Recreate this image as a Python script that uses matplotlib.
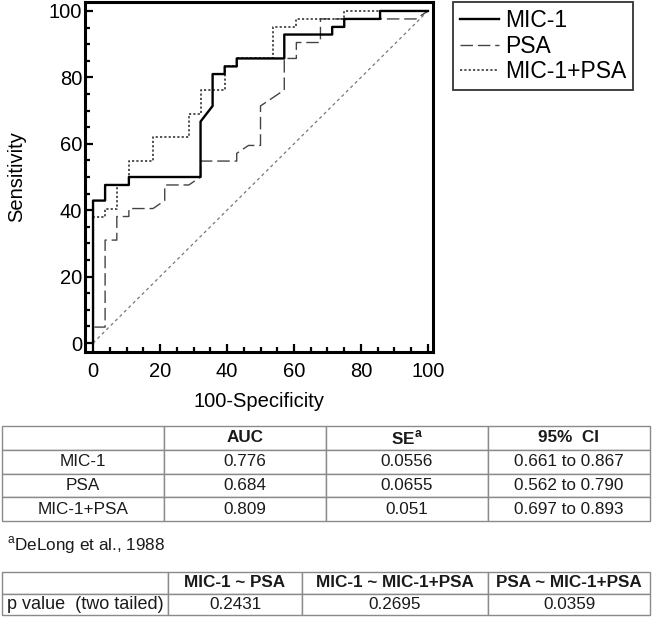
import matplotlib
matplotlib.use("Agg")
import matplotlib.pyplot as plt
from matplotlib.ticker import MultipleLocator

plt.rcParams['font.family'] = ['Liberation Sans', 'DejaVu Sans']
plt.rcParams['mathtext.fontset'] = 'custom'
plt.rcParams['mathtext.rm'] = 'Liberation Sans'
plt.rcParams['mathtext.bf'] = 'Liberation Sans:bold'

# ROC curves (100-Specificity, Sensitivity)
mic1_x = [0, 0, 3.6, 3.6, 10.7, 10.7, 32.1, 32.1, 35.7, 35.7, 39.3, 39.3, 42.9, 42.9,
          57.1, 57.1, 71.4, 71.4, 75.0, 75.0, 85.7, 85.7, 100]
mic1_y = [0, 42.9, 42.9, 47.6, 47.6, 50.0, 50.0, 66.7, 71.4, 81.0, 81.0, 83.3, 83.3, 85.7,
          85.7, 92.9, 92.9, 95.2, 95.2, 97.6, 97.6, 100, 100]

psa_x = [0, 0, 3.6, 3.6, 7.1, 7.1, 10.7, 10.7, 17.9, 21.4, 21.4, 28.6, 32.1, 32.1,
         42.9, 42.9, 46.4, 50.0, 50.0, 57.1, 57.1, 60.7, 60.7, 67.9, 67.9, 96.4, 100]
psa_y = [0, 4.8, 4.8, 31.0, 31.0, 38.1, 38.1, 40.5, 40.5, 42.9, 47.6, 47.6, 50.0, 54.8,
         54.8, 57.1, 59.5, 59.5, 71.4, 76.2, 85.7, 85.7, 90.5, 90.5, 97.6, 97.6, 100]

comb_x = [0, 0, 3.6, 3.6, 7.1, 7.1, 10.7, 10.7, 17.9, 17.9, 28.6, 28.6, 32.1, 32.1,
          39.3, 39.3, 42.9, 42.9, 53.6, 53.6, 60.7, 60.7, 75.0, 75.0, 100]
comb_y = [0, 38.1, 38.1, 40.5, 40.5, 47.6, 47.6, 54.8, 54.8, 61.9, 61.9, 69.0, 69.0, 76.2,
          76.2, 83.3, 83.3, 85.7, 85.7, 95.2, 95.2, 97.6, 97.6, 100, 100]

labels = ['MIC-1', 'PSA', 'MIC-1+PSA']

# table 1
t1_cols = ['', 'AUC', r'SE$^{\mathbf{a}}$', '95%  CI']
t1_rows = ['MIC-1', 'PSA', 'MIC-1+PSA']
auc = ['0.776', '0.684', '0.809']
se = ['0.0556', '0.0655', '0.051']
ci = ['0.661 to 0.867', '0.562 to 0.790', '0.697 to 0.893']
footnote = r'$^{\mathrm{a}}$DeLong et al., 1988'

# table 2
t2_cols = ['', 'MIC-1 ~ PSA', 'MIC-1 ~ MIC-1+PSA', 'PSA ~ MIC-1+PSA']
t2_row = ['p value  (two tailed)', '0.2431', '0.2695', '0.0359']

W, H = 652, 617
fig = plt.figure(figsize=(6.52, 6.17), dpi=100)

ax = fig.add_axes([85 / W, 1 - 352 / H, 348 / W, 350 / H])
ax.plot([0, 100], [0, 100], color='#777777', lw=0.9, dashes=(2.5, 2.5))
ax.plot(psa_x, psa_y, color='#444444', lw=1.0, dashes=(9, 3.5), label=labels[1])
ax.plot(comb_x, comb_y, color='#333333', lw=1.2, dashes=(1.3, 1.3), label=labels[2])
ax.plot(mic1_x, mic1_y, color='black', lw=1.7, label=labels[0])

ax.set_xlim(-2.4, 101.5)
ax.set_ylim(-2.7, 102.7)
ax.xaxis.set_major_locator(MultipleLocator(20))
ax.xaxis.set_minor_locator(MultipleLocator(5))
ax.yaxis.set_major_locator(MultipleLocator(20))
ax.yaxis.set_minor_locator(MultipleLocator(5))
ax.tick_params(which='both', direction='in', width=1.6, labelsize=14.5)
ax.tick_params(which='major', length=6)
ax.tick_params(which='minor', length=3.5)
ax.tick_params(axis='x', pad=7)
ax.tick_params(axis='y', pad=2)
for s in ax.spines.values():
    s.set_linewidth(2.2)

ax.set_xlabel('100-Specificity', fontsize=14.5)
ax.set_ylabel('Sensitivity', fontsize=14.5)
ax.xaxis.set_label_coords(0.5, -0.115)
ax.yaxis.set_label_coords(-0.168, 0.5)

h, l = ax.get_legend_handles_labels()
order = [2, 0, 1]
leg = fig.legend([h[i] for i in order], [l[i] for i in order],
                 loc='upper left', bbox_to_anchor=(453 / W, 1 - 2 / H),
                 fontsize=16.5, frameon=True, fancybox=False, edgecolor='black',
                 handlelength=1.7, labelspacing=0.12, borderpad=0.3,
                 handletextpad=0.28, borderaxespad=0)
leg.get_frame().set_linewidth(1.3)


def draw_table(rect, cols, rows, widths, size):
    tax = fig.add_axes(rect)
    tax.axis('off')
    tb = tax.table(cellText=rows, colLabels=cols, colWidths=widths,
                   cellLoc='center', bbox=[0, 0, 1, 1])
    tb.auto_set_font_size(False)
    tb.set_fontsize(size)
    for (r, c), cell in tb.get_celld().items():
        cell.set_edgecolor('#8a8a8a')
        cell.set_linewidth(1.0)
        cell.get_text().set_color('#1a1a1a')
        if r == 0:
            cell.get_text().set_fontweight('bold')
    return tb


t1_data = [[t1_rows[i], auc[i], se[i], ci[i]] for i in range(3)]
draw_table([2 / W, 1 - 521 / H, 648 / W, 95 / H], t1_cols, t1_data,
           [0.25, 0.25, 0.25, 0.25], 12.3)

fig.text(7 / W, 1 - 545 / H, footnote, fontsize=12.3, va='center', ha='left', color='#1a1a1a')

tb2 = draw_table([2 / W, 1 - 615 / H, 648 / W, 43 / H], t2_cols, [t2_row],
                 [166 / 648, 134 / 648, 186 / 648, 162 / 648], 12.3)
tb2[1, 0].get_text().set_fontsize(13)

fig.savefig('out.png', dpi=100)
